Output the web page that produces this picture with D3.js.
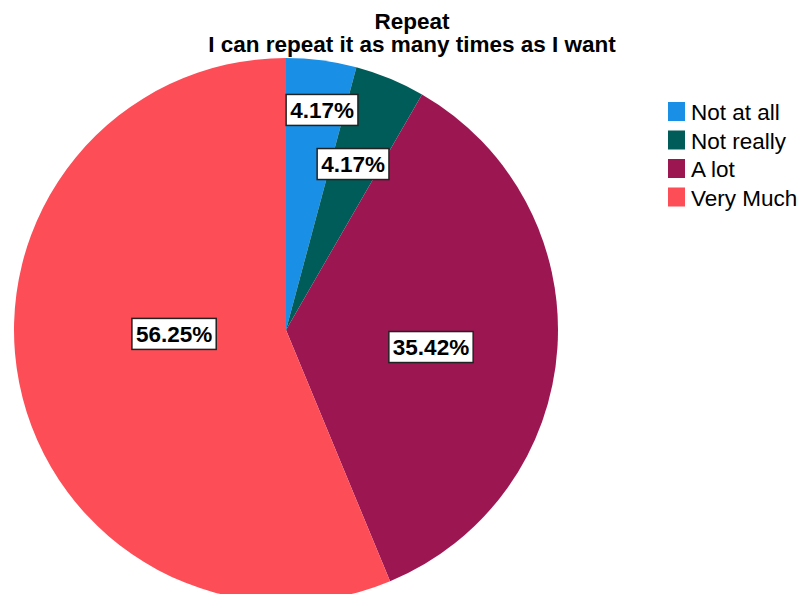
<!DOCTYPE html>
<html>
<head>
<meta charset="utf-8">
<script src="https://cdn.jsdelivr.net/npm/d3@7"></script>
<style>
  body { margin: 0; background: #fff; }
  text { font-family: "Liberation Sans", Arial, sans-serif; }
</style>
</head>
<body>
<div id="chart"></div>
<script>
// data
const categories = ["Not at all", "Not really", "A lot", "Very Much"];
const counts = [2, 2, 17, 27];
const percentLabels = ["4.17%", "4.17%", "35.42%", "56.25%"];
const colors = ["#1a8fe6", "#005c58", "#9c1652", "#fd4d57"];
// label placement (polar, degrees clockwise from top / px from centre)
const labelAngle = [9.3, 22, 96.7, 268];
const labelRadius = [223, 179, 146, 112];
const titleLines = ["Repeat", "I can repeat it as many times as I want"];

const width = 803, height = 594;
const cx = 286, cy = 330, radius = 272;

const svg = d3.select("#chart").append("svg")
    .attr("width", width)
    .attr("height", height);

// title
svg.append("g").selectAll("text")
    .data(titleLines)
    .join("text")
    .attr("x", 412)
    .attr("y", (d, i) => 29 + i * 23)
    .attr("text-anchor", "middle")
    .attr("font-size", 22.5)
    .attr("font-weight", "bold")
    .attr("fill", "#000")
    .text(d => d);

const pie = d3.pie().sort(null).value(d => d);
const arcs = pie(counts);
const arc = d3.arc().innerRadius(0).outerRadius(radius);

const plot = svg.append("g")
    .attr("transform", `translate(${cx},${cy})`);

plot.selectAll("path")
    .data(arcs)
    .join("path")
    .attr("d", arc)
    .attr("fill", (d, i) => colors[i]);

// percentage labels in boxes
const labels = plot.selectAll("g.label")
    .data(arcs)
    .join("g")
    .attr("class", "label")
    .attr("transform", (d, i) => {
        const a = labelAngle[i] * Math.PI / 180;
        const x = Math.sin(a) * labelRadius[i];
        const y = -Math.cos(a) * labelRadius[i];
        return `translate(${x},${y})`;
    });

labels.append("rect");
labels.append("text")
    .attr("text-anchor", "middle")
    .attr("dy", "0.36em")
    .attr("font-size", 22.5)
    .attr("font-weight", "bold")
    .attr("fill", "#000")
    .text((d, i) => percentLabels[i]);

labels.each(function() {
    const g = d3.select(this);
    const bb = g.select("text").node().getBBox();
    g.select("rect")
        .attr("x", bb.x - 4)
        .attr("y", -15.5)
        .attr("width", bb.width + 8)
        .attr("height", 31)
        .attr("fill", "#fff")
        .attr("stroke", "#222")
        .attr("stroke-width", 1.5);
});

// legend
const legend = svg.append("g")
    .attr("transform", "translate(668,102)");

const rows = legend.selectAll("g")
    .data(categories)
    .join("g")
    .attr("transform", (d, i) => `translate(0,${i * 28.5})`);

rows.append("rect")
    .attr("width", 17)
    .attr("height", 19)
    .attr("fill", (d, i) => colors[i]);

rows.append("text")
    .attr("x", 23)
    .attr("y", 18)
    .attr("font-size", 22.5)
    .attr("fill", "#000")
    .text(d => d);
</script>
</body>
</html>
